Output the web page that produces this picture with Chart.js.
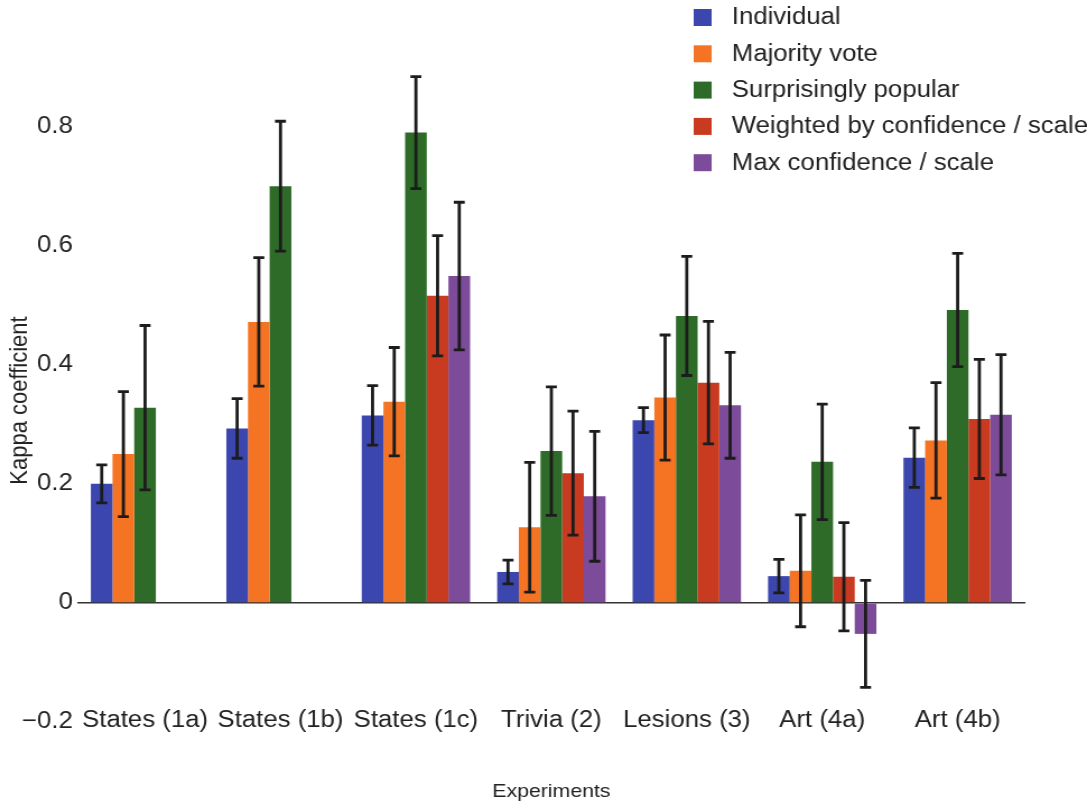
<!DOCTYPE html>
<html>
<head>
<meta charset="utf-8">
<script src="https://cdn.jsdelivr.net/npm/chart.js@4"></script>
<style>
  html, body { margin: 0; padding: 0; background: #fff; overflow: hidden; }
  /* the source figure is stretched sideways by about 1.12, so draw narrower and stretch */
  #wrap { width: 970px; height: 806px; transform: scaleX(1.12062); transform-origin: 0 0; }
</style>
</head>
<body>
<div id="wrap"><canvas id="chart"></canvas></div>
<script>
'use strict';
// data
const experiments = ['States (1a)', 'States (1b)', 'States (1c)', 'Trivia (2)', 'Lesions (3)', 'Art (4a)', 'Art (4b)'];
const methods = ['Individual', 'Majority vote', 'Surprisingly popular', 'Weighted by confidence / scale', 'Max confidence / scale'];

const individual = [0.200, 0.293, 0.315, 0.052, 0.307, 0.045, 0.244];
const majority = [0.250, 0.472, 0.338, 0.127, 0.345, 0.054, 0.273];
const surprising = [0.328, 0.700, 0.790, 0.255, 0.482, 0.237, 0.492];
const weighted = [null, null, 0.516, 0.218, 0.370, 0.044, 0.309];
const maxConf = [null, null, 0.549, 0.179, 0.332, -0.052, 0.316];

const individualErr = [0.032, 0.050, 0.050, 0.020, 0.021, 0.028, 0.050];
const majorityErr = [0.105, 0.108, 0.091, 0.109, 0.105, 0.094, 0.097];
const surprisingErr = [0.138, 0.109, 0.094, 0.108, 0.100, 0.097, 0.095];
const weightedErr = [null, null, 0.101, 0.104, 0.103, 0.091, 0.100];
const maxConfErr = [null, null, 0.124, 0.109, 0.089, 0.090, 0.101];

const colors = ['#3b47ae', '#f47424', '#2e6b28', '#c93b20', '#7c4b99'];

const seriesValues = [individual, majority, surprising, weighted, maxConf];
const seriesErrors = [individualErr, majorityErr, surprisingErr, weightedErr, maxConfErr];

const FONT = '"Liberation Sans", Arial, Helvetica, sans-serif';

// error bars with caps
const errorBars = {
  id: 'errorBars',
  afterDatasetsDraw(chart) {
    const ctx = chart.ctx;
    const yScale = chart.scales.y;
    ctx.save();
    ctx.strokeStyle = '#1c1c1c';
    ctx.lineWidth = 2.8;
    chart.data.datasets.forEach((ds, i) => {
      const meta = chart.getDatasetMeta(i);
      meta.data.forEach((bar, j) => {
        const v = ds.data[j];
        const e = ds.errors[j];
        if (v == null || e == null) return;
        const top = yScale.getPixelForValue(v + e);
        const bot = yScale.getPixelForValue(v - e);
        const cap = 4.9;
        ctx.beginPath();
        ctx.moveTo(bar.x, top);
        ctx.lineTo(bar.x, bot);
        ctx.moveTo(bar.x - cap, top);
        ctx.lineTo(bar.x + cap, top);
        ctx.moveTo(bar.x - cap, bot);
        ctx.lineTo(bar.x + cap, bot);
        ctx.stroke();
      });
    });
    ctx.restore();
  }
};

// legend in the top right corner
const cornerLegend = {
  id: 'cornerLegend',
  afterDraw(chart) {
    const ctx = chart.ctx;
    ctx.save();
    ctx.font = '23px ' + FONT;
    ctx.textBaseline = 'middle';
    ctx.textAlign = 'left';
    chart.data.datasets.forEach((ds, i) => {
      const y = 17 + i * 36.3;
      ctx.fillStyle = ds.backgroundColor;
      ctx.fillRect(619, y - 8, 16, 17);
      ctx.fillStyle = '#222';
      ctx.fillText(ds.label, 653, y + 1);
    });
    ctx.restore();
  }
};

const formatTick = function (v) {
  const r = Math.round(v * 10) / 10;
  if (Math.abs(v - r) > 1e-6) return '';
  if (r === 0) return '0';
  return (r < 0 ? '\u22120.' : '0.') + Math.round(Math.abs(r) * 10);
};

new Chart(document.getElementById('chart'), {
  type: 'bar',
  data: {
    labels: experiments,
    datasets: methods.map((m, i) => ({
      label: m,
      data: seriesValues[i],
      errors: seriesErrors[i],
      backgroundColor: colors[i],
      borderWidth: 0,
      categoryPercentage: 0.8,
      barPercentage: 1.0,
    })),
  },
  options: {
    responsive: true,
    maintainAspectRatio: false,
    animation: false,
    layout: { padding: { top: 79, right: 55, left: 0, bottom: 0 } },
    plugins: {
      legend: { display: false },
      tooltip: { enabled: false },
    },
    scales: {
      x: {
        grid: { display: false, drawTicks: false },
        border: { display: false },
        ticks: {
          font: { family: FONT, size: 23 },
          color: '#222',
          mirror: true,
          padding: -12,
          maxRotation: 0,
          autoSkip: false,
        },
        title: {
          display: true,
          text: 'Experiments',
          font: { family: FONT, size: 19 },
          color: '#222',
          padding: { top: 0, bottom: 3 },
        },
        afterFit: function (scale) {
          scale.height = 84;
        },
      },
      y: {
        min: -0.2,
        max: 0.88,
        border: { display: false },
        grid: {
          drawTicks: false,
          color: ctx => (ctx.tick && Math.abs(ctx.tick.value) < 1e-9 ? '#333' : 'rgba(0,0,0,0)'),
          lineWidth: 1.5,
        },
        ticks: {
          stepSize: 0.2,
          font: { family: FONT, size: 23 },
          color: '#222',
          padding: 4,
          callback: formatTick,
        },
        title: {
          display: true,
          text: 'Kappa coefficient',
          font: { family: FONT, size: 22 },
          color: '#222',
          padding: { top: 5, bottom: 0 },
        },
        afterFit: function (scale) {
          scale.width = 69;
        },
      },
    },
  },
  plugins: [errorBars, cornerLegend],
});
</script>
</body>
</html>
